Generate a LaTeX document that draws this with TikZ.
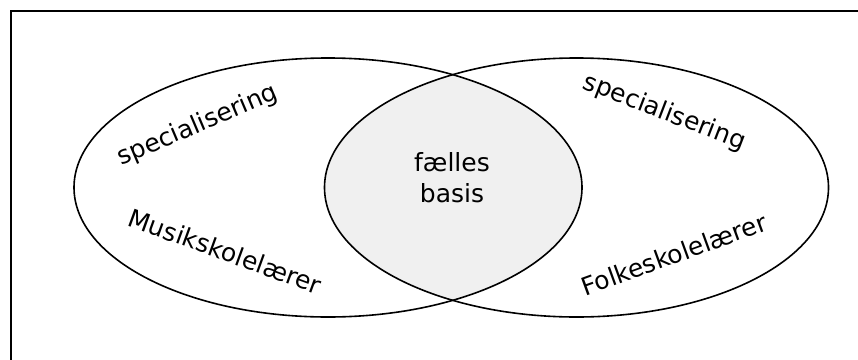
\documentclass[tikz,border=0pt]{standalone}
\usepackage{fontspec}
\setmainfont{DejaVu Sans}
\begin{document}
\begin{tikzpicture}[x=1pt,y=-1pt,
  ring/.style={draw=black,line width=1.6pt},
  frameline/.style={draw=black,line width=2.2pt},
  lbl/.style={font=\fontsize{25}{31}\selectfont,inner sep=0pt,anchor=base},
  common/.style={fill=black!6}]
\useasboundingbox (0,0) rectangle (858,359);
\fill[white] (0,0) rectangle (858,359);
% frame (only top and left edges are visible)
\coordinate (fbl) at (11,370);
\coordinate (ftl) at (11,11);
\coordinate (ftr) at (870,11);
\draw[frameline] (fbl) -- (ftl) -- (ftr);
% intersection fill
\begin{scope}
  \clip (328,187.5) ellipse [x radius=254, y radius=129.5];
  \fill[common] (576.5,187.5) ellipse [x radius=252, y radius=129.5];
\end{scope}
% ellipses
\draw[ring] (328,187.5) ellipse [x radius=254, y radius=129.5];
\draw[ring] (576.5,187.5) ellipse [x radius=252, y radius=129.5];
% labels
\node[font=\fontsize{25}{31}\selectfont,align=center,inner sep=0pt] (basis) at (452,178) {fælles\\basis};
\node[lbl,rotate=23] (specL) at (200.5,132) {specialisering};
\node[lbl,rotate=-21] (specR) at (662,119) {specialisering};
\node[lbl,rotate=-20] (musik) at (222,260) {Musikskolelærer};
\node[lbl,rotate=20] (folke) at (677,263) {Folkeskolelærer};
\end{tikzpicture}
\end{document}
